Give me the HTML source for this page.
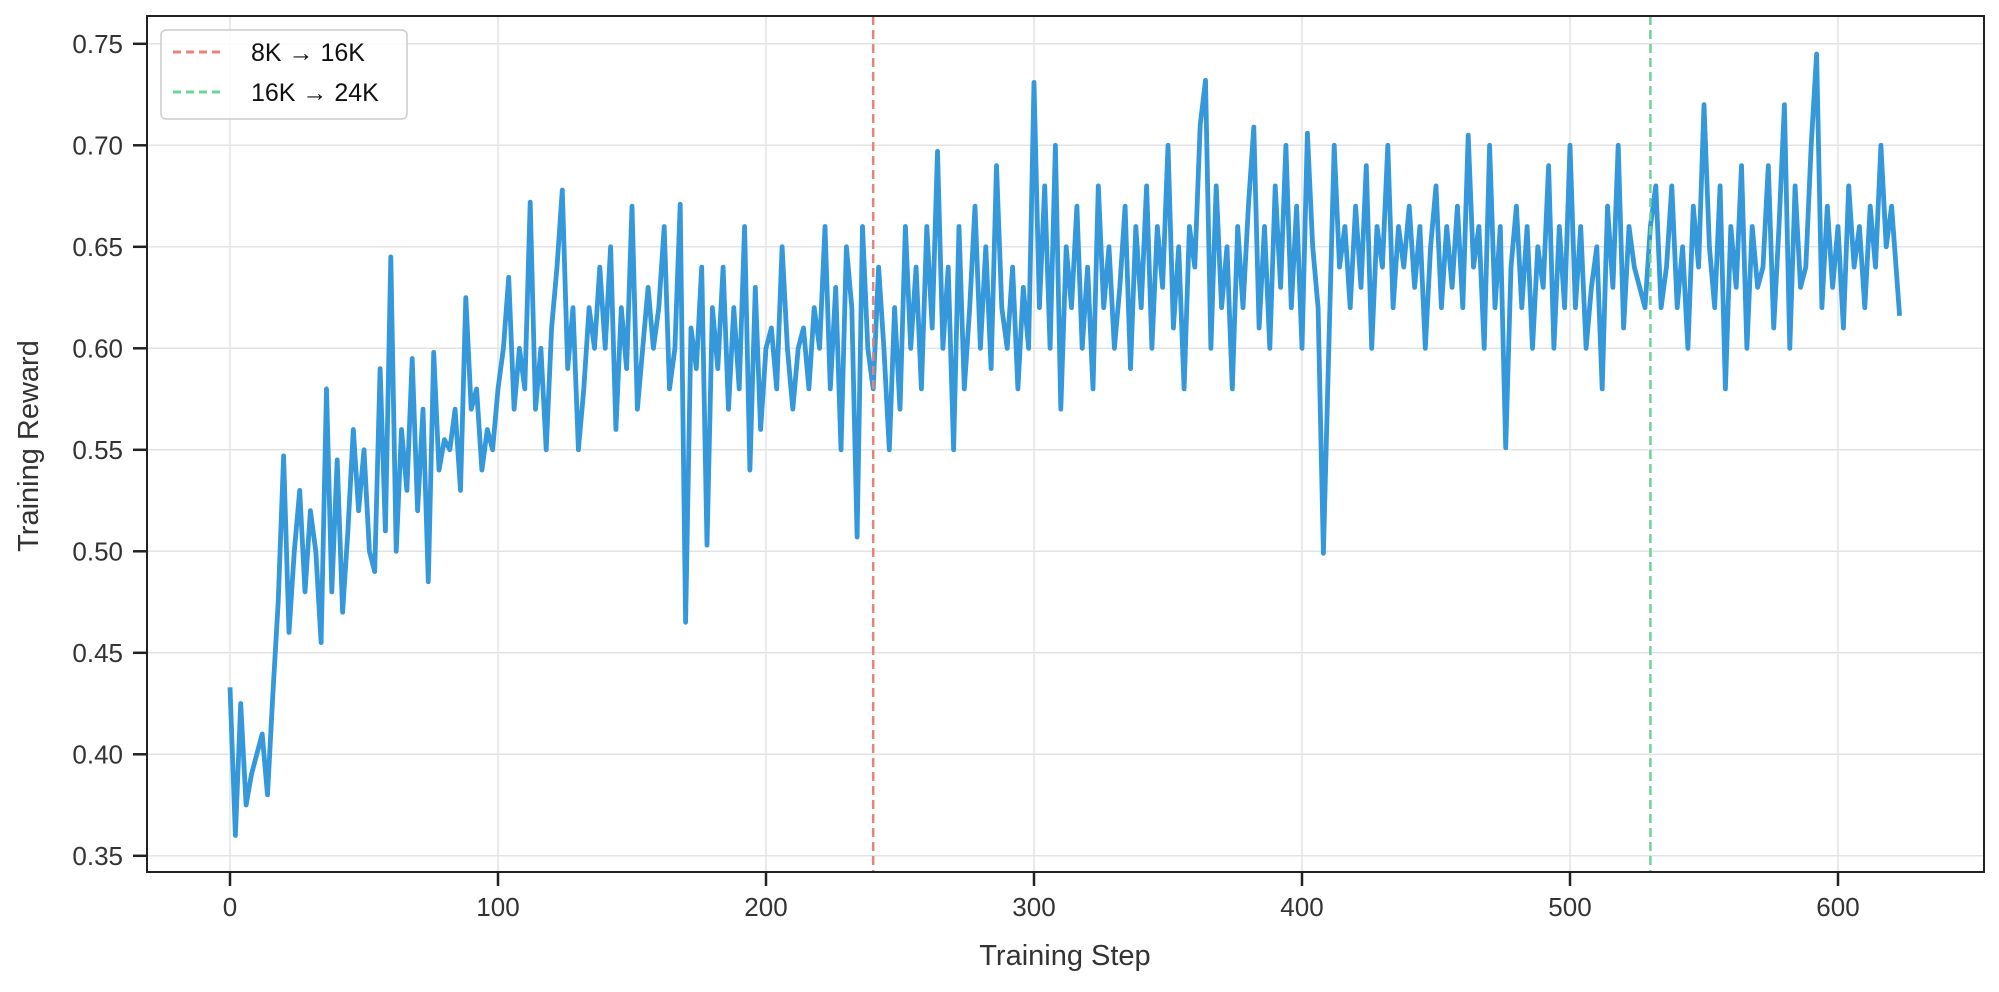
<!DOCTYPE html>
<html><head><meta charset="utf-8"><style>
html,body{margin:0;padding:0;background:#fff;}
svg{display:block;font-family:"Liberation Sans",Arial,sans-serif;}
</style></head><body>
<svg id="chart" width="1999" height="992" viewBox="0 0 1999 992" xmlns="http://www.w3.org/2000/svg">
<g id="grid"></g>
<g id="marks"></g>
<rect x="147" y="16" width="1837" height="856" fill="none" stroke="#222" stroke-width="2"/>
<g id="ticks"></g>
<text x="1065" y="965" font-size="29" fill="#333" text-anchor="middle">Training Step</text>
<text transform="translate(38,446) rotate(-90)" font-size="29" fill="#333" text-anchor="middle">Training Reward</text>
<g>
<rect x="161" y="30" width="246" height="89" rx="5" fill="#fff" fill-opacity="0.85" stroke="#ccc" stroke-width="1.5"/>
<line x1="173" y1="52" x2="223" y2="52" stroke="#e8837a" stroke-width="3" stroke-dasharray="8,5"/>
<text x="251" y="61" font-size="25" fill="#111">8K → 16K</text>
<line x1="173" y1="92" x2="223" y2="92" stroke="#6cd49a" stroke-width="3" stroke-dasharray="8,5"/>
<text x="251" y="101" font-size="25" fill="#111">16K → 24K</text>
</g>
</svg>
<script>
const steps = [];
const rewards = [
.433,.36,.425,.375,.39,.40,.41,.38,.43,.475,
.547,.46,.50,.53,.48,.52,.50,.455,.58,.48,
.545,.47,.51,.56,.52,.55,.50,.49,.59,.51,
.645,.50,.56,.53,.595,.52,.57,.485,.598,.54,
.555,.55,.57,.53,.625,.57,.58,.54,.56,.55,
.58,.60,.635,.57,.60,.58,.672,.57,.60,.55,
.61,.64,.678,.59,.62,.55,.58,.62,.60,.64,
.60,.65,.56,.62,.59,.67,.57,.60,.63,.60,
.62,.66,.58,.60,.671,.465,.61,.59,.64,.503,
.62,.59,.64,.57,.62,.58,.66,.54,.63,.56,
.60,.61,.58,.65,.60,.57,.60,.61,.58,.62,
.60,.66,.58,.63,.55,.65,.62,.507,.66,.60,
.58,.64,.60,.55,.62,.57,.66,.60,.64,.58,
.66,.61,.697,.60,.64,.55,.66,.58,.62,.67,
.60,.65,.59,.69,.62,.60,.64,.58,.63,.60,
.731,.62,.68,.60,.70,.57,.65,.62,.67,.60,
.64,.58,.68,.62,.65,.60,.63,.67,.59,.66,
.62,.68,.60,.66,.63,.70,.61,.65,.58,.66,
.64,.71,.732,.60,.68,.62,.65,.58,.66,.62,
.67,.709,.61,.66,.60,.68,.63,.70,.62,.67,
.60,.706,.65,.62,.499,.60,.70,.64,.66,.62,
.67,.63,.69,.60,.66,.64,.70,.62,.66,.64,
.67,.63,.66,.60,.65,.68,.62,.66,.63,.67,
.62,.705,.64,.66,.60,.70,.62,.66,.551,.64,
.67,.62,.66,.60,.65,.63,.69,.60,.66,.62,
.70,.62,.66,.60,.63,.65,.58,.67,.63,.70,
.61,.66,.64,.63,.62,.66,.68,.62,.64,.68,
.62,.65,.60,.67,.64,.72,.65,.62,.68,.58,
.66,.63,.69,.60,.66,.63,.64,.69,.61,.66,
.72,.60,.68,.63,.64,.70,.745,.62,.67,.63,
.66,.61,.68,.64,.66,.62,.67,.64,.70,.65,
.67,.616];
for (let i = 0; i < rewards.length; i++) steps.push(i === rewards.length - 1 ? 623 : i * 2);
const xTicks = [0,100,200,300,400,500,600];
const yTicks = [0.35,0.40,0.45,0.50,0.55,0.60,0.65,0.70,0.75];
const yTickLabels = ["0.35","0.40","0.45","0.50","0.55","0.60","0.65","0.70","0.75"];
const transitions = [240, 530];
const transitionNames = ["transition-8k-16k","transition-16k-24k"];
const transitionColors = ["#e8837a","#6cd49a"];

const X = v => 230 + v * 2.68;
const Y = v => 43.8 + (0.75 - v) / 0.05 * 101.5;
const NS = "http://www.w3.org/2000/svg";
const grid = document.getElementById('grid'), marks = document.getElementById('marks'), ticks = document.getElementById('ticks');
function mk(tag, attrs, parent){ const e = document.createElementNS(NS, tag); for (const k in attrs) e.setAttribute(k, attrs[k]); parent.appendChild(e); return e; }

xTicks.forEach(t => {
  const g = mk('line', {x1:X(t), x2:X(t), y1:16, y2:872, stroke:'#e3e3e3', 'stroke-width':1.5}, grid);
  
  
  const tk = mk('line', {x1:X(t), x2:X(t), y1:872, y2:886, stroke:'#222', 'stroke-width':2.5}, ticks);
  
  
  const tx = mk('text', {x:X(t), y:916, 'font-size':26, fill:'#333', 'text-anchor':'middle'}, ticks);
  tx.textContent = t;
  
  
});
yTicks.forEach((t, i) => {
  const g = mk('line', {x1:147, x2:1984, y1:Y(t), y2:Y(t), stroke:'#e3e3e3', 'stroke-width':1.5}, grid);
  
  
  const tk = mk('line', {x1:133, x2:147, y1:Y(t), y2:Y(t), stroke:'#222', 'stroke-width':2.5}, ticks);
  
  
  const tx = mk('text', {x:123, y:Y(t) + 9, 'font-size':26, fill:'#333', 'text-anchor':'end'}, ticks);
  tx.textContent = yTickLabels[i];
  
  
});
let d = '';
steps.forEach((s, i) => { d += (i ? 'L' : 'M') + X(s).toFixed(1) + ',' + Y(rewards[i]).toFixed(1); });
const path = mk('path', {d:d, fill:'none', stroke:'#3498db', 'stroke-width':4.8, 'stroke-linejoin':'round'}, marks);


transitions.forEach((t, i) => {
  const l = mk('line', {x1:X(t), x2:X(t), y1:16, y2:872, stroke:transitionColors[i], 'stroke-width':2.5, 'stroke-dasharray':'9,5'}, marks);
  
  
});
</script>
</body></html>
